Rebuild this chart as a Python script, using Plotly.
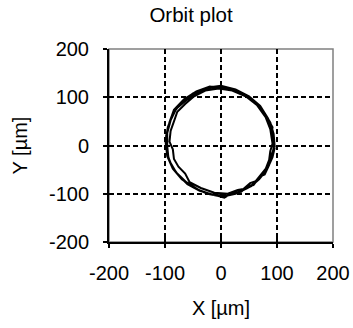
import plotly.graph_objects as go

# Orbit samples (X, Y in µm), several revolutions
loop1_x = [95, 92, 84, 70, 50, 26, 0, -26, -50, -70, -86, -95, -99, -96, -86, -70, -48, -24, 2, 26, 48, 66, 80, 90, 95]
loop1_y = [0, 30, 56, 82, 102, 116, 124, 120, 108, 90, 66, 38, 8, -22, -48, -70, -88, -100, -106, -100, -88, -72, -52, -26, 0]
loop2_x = [92, 88, 80, 64, 44, 20, -4, -28, -48, -64, -78, -84, -90, -92, -86, -84, -76, -64, -56, -36, -12, 12, 30, 40, 52, 62, 74, 80, 86, 88, 92]
loop2_y = [4, 34, 58, 84, 102, 114, 118, 114, 102, 86, 70, 50, 30, 8, -8, -28, -44, -58, -76, -88, -98, -100, -92, -90, -78, -74, -56, -48, -30, -12, 4]
loop3_x = [94, 90, 92, 82, 72, 54, 30, 6, -18, -42, -62, -80, -90, -96, -96, -94, -88, -76, -60, -38, -12, 6, 20, 36, 48, 58, 70, 78, 86, 90, 94, 94]
loop3_y = [6, 20, 38, 58, 76, 96, 112, 120, 120, 110, 94, 76, 52, 26, -2, -24, -42, -62, -80, -94, -102, -108, -98, -96, -84, -82, -64, -60, -40, -20, -8, 6]
loop4_x = [96, 94, 88, 74, 56, 34, 8, -20, -44, -66, -84, -92, -98, -97, -92, -80, -62, -40, -16, 10, 32, 54, 68, 82, 92, 96]
loop4_y = [-4, 24, 48, 74, 94, 110, 118, 122, 112, 96, 74, 48, 20, -10, -32, -56, -76, -92, -102, -104, -96, -84, -70, -50, -24, -4]

x_vals = loop1_x + loop2_x + loop3_x + loop4_x
y_vals = loop1_y + loop2_y + loop3_y + loop4_y

tick_vals = [-200, -100, 0, 100, 200]
tick_text = ["-200", "-100", "0", "100", "200"]

FONT = "Liberation Sans, Arial, sans-serif"
FS = 20

fig = go.Figure()
fig.add_trace(go.Scatter(x=x_vals, y=y_vals, mode="lines",
                         line=dict(color="black", width=2), showlegend=False))
# invisible trace to activate inside-tick overlay axes
fig.add_trace(go.Scatter(x=[None], y=[None], xaxis="x2", yaxis="y2", showlegend=False))

grid = dict(showgrid=True, gridcolor="black", gridwidth=2.2, griddash="5px,3px", zeroline=False)

fig.update_layout(
    width=353, height=328,
    margin=dict(l=109, r=20, t=49, b=86),
    paper_bgcolor="white", plot_bgcolor="white",
    font=dict(family=FONT, size=FS, color="black"),
    title=dict(text="Orbit plot", x=191 / 353, xref="container", xanchor="center",
               y=1 - 15 / 328, yanchor="middle", font=dict(size=20.5)),
    xaxis=dict(range=[-200, 200], tickvals=tick_vals, ticktext=tick_text,
               ticks="outside", ticklen=4, tickwidth=2, tickcolor="black",
               showline=True, linecolor="black", linewidth=2, automargin=False,
               ticklabelstandoff=8, tickfont=dict(size=FS),
               title=dict(text="X [µm]", standoff=18, font=dict(size=FS)), **grid),
    yaxis=dict(range=[-200, 200], tickvals=tick_vals, ticktext=tick_text,
               ticks="outside", ticklen=4, tickwidth=2, tickcolor="black",
               showline=True, linecolor="black", linewidth=2, automargin=False,
               ticklabelstandoff=10, tickfont=dict(size=FS),
               title=dict(text="Y [µm]", standoff=16, font=dict(size=FS)), **grid),
    xaxis2=dict(range=[-200, 200], tickvals=tick_vals, overlaying="x", anchor="y",
                ticks="inside", ticklen=4, tickwidth=2, tickcolor="black",
                showticklabels=False, showgrid=False, zeroline=False),
    yaxis2=dict(range=[-200, 200], tickvals=tick_vals, overlaying="y", anchor="x",
                ticks="inside", ticklen=4, tickwidth=2, tickcolor="black",
                showticklabels=False, showgrid=False, zeroline=False),
    shapes=[dict(type="rect", xref="paper", yref="paper", x0=0, x1=1, y0=0, y1=1,
                 line=dict(color="#808080", width=1.5), layer="below")],
)

fig.write_html("out.html")
